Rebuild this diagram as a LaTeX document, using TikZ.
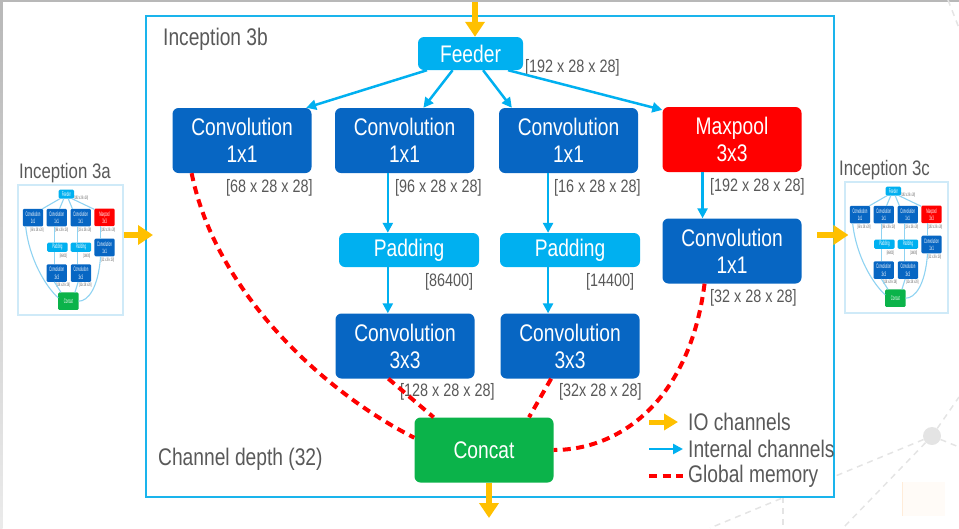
\documentclass[tikz,border=0pt]{standalone}
\usepackage{fontspec}
\setmainfont[FakeStretch=0.8]{Liberation Sans}
\usetikzlibrary{arrows.meta}

\definecolor{framecyan}{HTML}{1AB4EC}
\definecolor{feedcyan}{HTML}{00B0F0}
\definecolor{convblue}{HTML}{0766C3}
\definecolor{poolred}{HTML}{FF0000}
\definecolor{catgreen}{HTML}{0BB34A}
\definecolor{iogold}{HTML}{FFC000}
\definecolor{memred}{HTML}{FF0000}
\definecolor{labgray}{HTML}{595959}
\definecolor{thinblue}{HTML}{8FD3F2}
\definecolor{thumbedge}{HTML}{CFEAF8}
\definecolor{decogray}{HTML}{E4E4E4}

\newcommand\boxfont{\fontsize{24}{27}\selectfont}
\newcommand\dimfont{\fontsize{18}{20}\selectfont}
\newcommand\txtfont{\fontsize{24}{27}\selectfont}

% Inception 模块（主图和缩略图共用）
\newcommand\incepnet{%
  % 方块
  \node[padbox, minimum width=105pt, minimum height=33pt] (feeder) at (470.5,53.5) {Feeder};
  \node[convbox] (convA) at (242,140.5) {Convolution\\1x1};
  \node[convbox] (convB) at (404.5,140.5) {Convolution\\1x1};
  \node[convbox] (convC) at (568.5,140.5) {Convolution\\1x1};
  \node[convbox, fill=poolred] (maxpool) at (732,139.5) {Maxpool\\3x3};
  \node[padbox] (padL) at (409,250) {Padding};
  \node[padbox] (padR) at (570,250) {Padding};
  \node[convbox] (conv3L) at (405,346) {Convolution\\3x3};
  \node[convbox] (conv3R) at (570,346) {Convolution\\3x3};
  \node[convbox] (conv1R) at (732,251) {Convolution\\1x1};
  \node[convbox, fill=catgreen] (concat) at (484,450) {Concat};
  % 维度标注
  \node[dimlabel] (dimFeed) at (525,68) {[192 x 28 x 28]};
  \node[dimlabel] (dimA) at (226,188) {[68 x 28 x 28]};
  \node[dimlabel] (dimB) at (395,188) {[96 x 28 x 28]};
  \node[dimlabel] (dimC) at (554,188) {[16 x 28 x 28]};
  \node[dimlabel] (dimPool) at (710,187) {[192 x 28 x 28]};
  \node[dimlabel] (dimPadL) at (425,282) {[86400]};
  \node[dimlabel] (dimPadR) at (586,282) {[14400]};
  \node[dimlabel] (dim3L) at (400,392) {[128 x 28 x 28]};
  \node[dimlabel] (dim3R) at (559,392) {[32x 28 x 28]};
  \node[dimlabel] (dim1R) at (710,298) {[32 x 28 x 28]};
  % 内部通道
  \draw[chan] (feeder.201) -- (convA.27);
  \draw[chan] (feeder.223) -- (convB.60);
  \draw[chan] (feeder.307) -- (convC.150);
  \draw[chan] (feeder.336) -- (maxpool.157);
  \draw[chan] (convB.243) -- (convB.243 |- padL.north);
  \draw[chan] (convB.243 |- padL.south) -- (convB.243 |- conv3L.north);
  \draw[chan] (convC.238) -- (convC.238 |- padR.north);
  \draw[chan] (convC.238 |- padR.south) -- (convC.238 |- conv3R.north);
  \draw[chan] (maxpool.228) -- (maxpool.228 |- conv1R.north);
  % 全局内存
  \draw[gmem] (convA.213) .. controls +(24,120) and +(-89,-45) .. (concat.170);
  \draw[gmem] (conv3L.243) -- (concat.147);
  \draw[gmem] (conv3R.240) -- (concat.36);
  \draw[gmem] (conv1R.230) .. controls +(-15,117) and +(66,0) .. (concat.east);
}

\begin{document}
\begin{tikzpicture}[x=1pt, y=-1pt,
    basebox/.style={rectangle, rounded corners=6pt, inner sep=0pt, text=white, align=center, font=\boxfont},
    convbox/.style={basebox, fill=convblue, minimum width=139pt, minimum height=65pt},
    padbox/.style={basebox, fill=feedcyan, minimum width=140pt, minimum height=34pt},
    dimlabel/.style={anchor=west, inner sep=0pt, text=labgray, font=\dimfont},
    capt/.style={anchor=west, inner sep=0pt, text=labgray, font=\txtfont},
    chan/.style={draw=feedcyan, line width=2.5pt, -{Triangle[length=10pt,width=10pt]}},
    gmem/.style={draw=memred, line width=4pt, dash pattern=on 8pt off 5.5pt},
    iochan/.style={draw=iogold, line width=6pt, -{Triangle[length=15pt,width=19pt]}},
    thumbbox/.style={draw=thumbedge, line width=1.2pt, fill=white, inner sep=0pt},
    deco/.style={draw=decogray, line width=1.5pt, dash pattern=on 6pt off 5pt},
    thumb/.style={transform shape,
      chan/.style={draw=thinblue, line width=1.1pt},
      gmem/.style={draw=thinblue, line width=1.1pt},
      basebox/.append style={rounded corners=1.2pt}}]
    \useasboundingbox (0,0) rectangle (959,528);

    % 背景装饰
    \shade[top color=black!28, bottom color=black!8] (0,0) rectangle (2.5,528);
    \fill[black!28] (0,0) rectangle (959,1.5);
    \node[circle, fill=decogray, minimum size=18pt, inner sep=0pt] (hub) at (932,436) {};
    \coordinate (decoA) at (710,528);
    \coordinate (decoB) at (843,528);
    \coordinate (decoC) at (959,447);
    \coordinate (decoD) at (959,397);
    \draw[deco] (hub) -- (decoA);
    \draw[deco] (hub) -- (decoB);
    \draw[deco] (hub) -- (decoC);
    \draw[deco] (hub) -- (decoD);
    \draw[deco] (783,497) -- (783,528);
    \draw[deco] (948,0) -- (959,28);
    \fill[orange!3] (902,482) rectangle (945,516);
    \draw[orange!15, line width=1pt] (902,482) -- (902,516);

    % 主框
    \node[draw=framecyan, line width=1.6pt, fill=white, inner sep=0pt,
          minimum width=688pt, minimum height=481pt] (frame3b) at (490,256.5) {};
    \node[capt] (ttl3b) at (163,39) {Inception 3b};
    \node[capt] (depth) at (158,459) {Channel depth (32)};

    % 左右缩略图
    \node[thumbbox, minimum width=105pt, minimum height=130pt] (thumbA) at (70.5,250) {};
    \node[capt, font=\fontsize{21}{23}\selectfont] (ttl3a) at (19,173) {Inception 3a};
    \begin{scope}[shift={(-2.3,179.7)}, xscale=0.146, yscale=0.27, thumb, name prefix=a-]
        \incepnet
    \end{scope}
    \node[thumbbox, minimum width=103pt, minimum height=131pt] (thumbC) at (896.5,247.5) {};
    \node[capt, font=\fontsize{21}{23}\selectfont] (ttl3c) at (839,170) {Inception 3c};
    \begin{scope}[shift={(824.7,176.7)}, xscale=0.146, yscale=0.27, thumb, name prefix=c-]
        \incepnet
    \end{scope}

    % 主图
    \incepnet

    % IO 通道
    \coordinate (ioTop) at (475,2);
    \draw[iochan] (ioTop) -- (ioTop |- feeder.north);
    \coordinate (ioBot) at (489,518);
    \draw[iochan] (ioBot |- concat.south) -- (ioBot);
    \coordinate (ioIn) at (153,235);
    \draw[iochan] (thumbA.east |- ioIn) -- (ioIn);
    \coordinate (ioOut) at (817,235);
    \draw[iochan] (ioOut) -- ([xshift=4pt]ioOut -| thumbC.west);

    % 图例
    \node[capt] (lgIO) at (688,422) {IO channels};
    \node[capt] (lgInt) at (688,449) {Internal channels};
    \node[capt] (lgMem) at (688,476) {Global memory};
    \draw[iochan, line width=5pt, -{Triangle[length=14pt,width=16pt]}] ([xshift=-39pt]lgIO.west) -- ([xshift=-10pt]lgIO.west);
    \draw[chan] ([xshift=-39pt]lgInt.west) -- ([xshift=-5pt]lgInt.west);
    \draw[gmem] ([xshift=-39pt]lgMem.west) -- ([xshift=-5pt]lgMem.west);
\end{tikzpicture}
\end{document}
